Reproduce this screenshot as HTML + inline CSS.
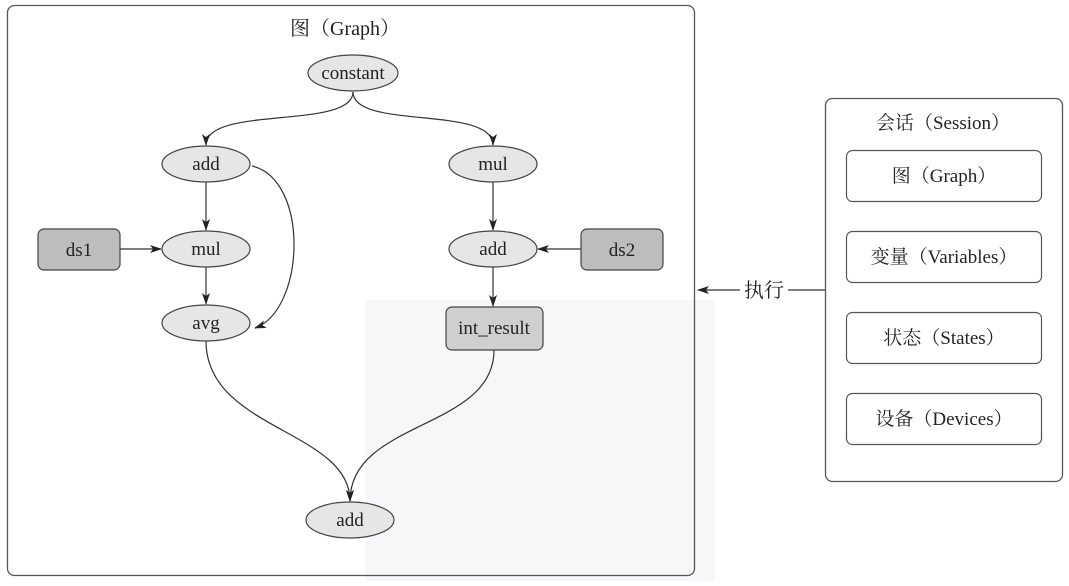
<!DOCTYPE html>
<html><head><meta charset="utf-8"><style>
body{margin:0;background:#fff;}
svg text{font-family:"Liberation Serif","Noto Serif CJK SC",serif;fill:#222;}
</style></head><body>
<svg width="1069" height="581" viewBox="0 0 1069 581" xmlns="http://www.w3.org/2000/svg">
<defs><marker id="a" markerWidth="12" markerHeight="8" refX="11" refY="4" orient="auto" markerUnits="userSpaceOnUse"><path d="M0,0 L12,4 L0,8 L3,4 z" fill="#222"/></marker></defs>
<rect x="365" y="300" width="350" height="281" fill="#f7f7f9"/>
<rect x="7.5" y="5.5" width="687" height="570" rx="7" fill="none" stroke="#555" stroke-width="1.3"/>
<text x="345" y="35" font-size="20" text-anchor="middle">图（Graph）</text>
<g stroke="#333" stroke-width="1.2" fill="none">
<path d="M353,92 C353,130 206,105 206,145" marker-end="url(#a)"/>
<path d="M353,92 C353,130 493,105 493,145" marker-end="url(#a)"/>
<path d="M206,182 L206,230" marker-end="url(#a)"/>
<path d="M206,267 L206,304" marker-end="url(#a)"/>
<path d="M252,166 C310,180 305,310 255,328" marker-end="url(#a)"/>
<path d="M120,249 L161,249" marker-end="url(#a)"/>
<path d="M493,182 L493,230" marker-end="url(#a)"/>
<path d="M581,249 L538,249" marker-end="url(#a)"/>
<path d="M493,267 L493,306" marker-end="url(#a)"/>
<path d="M206,341 C206,430 350,430 350,501" marker-end="url(#a)"/>
<path d="M494,350 C494,430 350,420 350,501" marker-end="url(#a)"/>
</g>
<g stroke="#444" stroke-width="1.2" fill="#e6e6e6">
<ellipse cx="353" cy="73" rx="45" ry="18"/>
<ellipse cx="206" cy="164" rx="44" ry="18"/>
<ellipse cx="493" cy="164" rx="44" ry="18"/>
<ellipse cx="206" cy="249" rx="44" ry="18"/>
<ellipse cx="493" cy="249" rx="44" ry="18"/>
<ellipse cx="206" cy="323" rx="44" ry="18"/>
<ellipse cx="350" cy="520" rx="44" ry="18"/>
</g>
<g stroke="#444" stroke-width="1.2" fill="#bdbdbd">
<rect x="38" y="229" width="82" height="41" rx="6"/>
<rect x="581" y="229" width="82" height="41" rx="6"/>
<rect x="446" y="307" width="97" height="43" rx="6" fill="#cfcfcf"/>
</g>
<g font-size="19" text-anchor="middle">
<text x="353" y="79">constant</text>
<text x="206" y="170">add</text>
<text x="493" y="170">mul</text>
<text x="206" y="255">mul</text>
<text x="493" y="255">add</text>
<text x="206" y="329">avg</text>
<text x="350" y="526">add</text>
<text x="79" y="256">ds1</text>
<text x="622" y="256">ds2</text>
<text x="494" y="334">int_result</text>
</g>
<path d="M740,290 L698,290" stroke="#333" stroke-width="1.2" marker-end="url(#a)"/>
<path d="M788,290 L825,290" stroke="#333" stroke-width="1.2"/>
<text x="764" y="297" font-size="20" text-anchor="middle">执行</text>
<rect x="825.5" y="98.5" width="237" height="383" rx="7" fill="none" stroke="#555" stroke-width="1.3"/>
<text x="943" y="129" font-size="19" text-anchor="middle">会话（Session）</text>
<g stroke="#555" stroke-width="1.2" fill="none">
<rect x="846.5" y="150.5" width="195" height="51" rx="6"/>
<rect x="846.5" y="231.5" width="195" height="51" rx="6"/>
<rect x="846.5" y="312.5" width="195" height="51" rx="6"/>
<rect x="846.5" y="393.5" width="195" height="51" rx="6"/>
</g>
<g font-size="19" text-anchor="middle">
<text x="944" y="182">图（Graph）</text>
<text x="944" y="263">变量（Variables）</text>
<text x="944" y="344">状态（States）</text>
<text x="944" y="425">设备（Devices）</text>
</g>
</svg>
</body></html>
